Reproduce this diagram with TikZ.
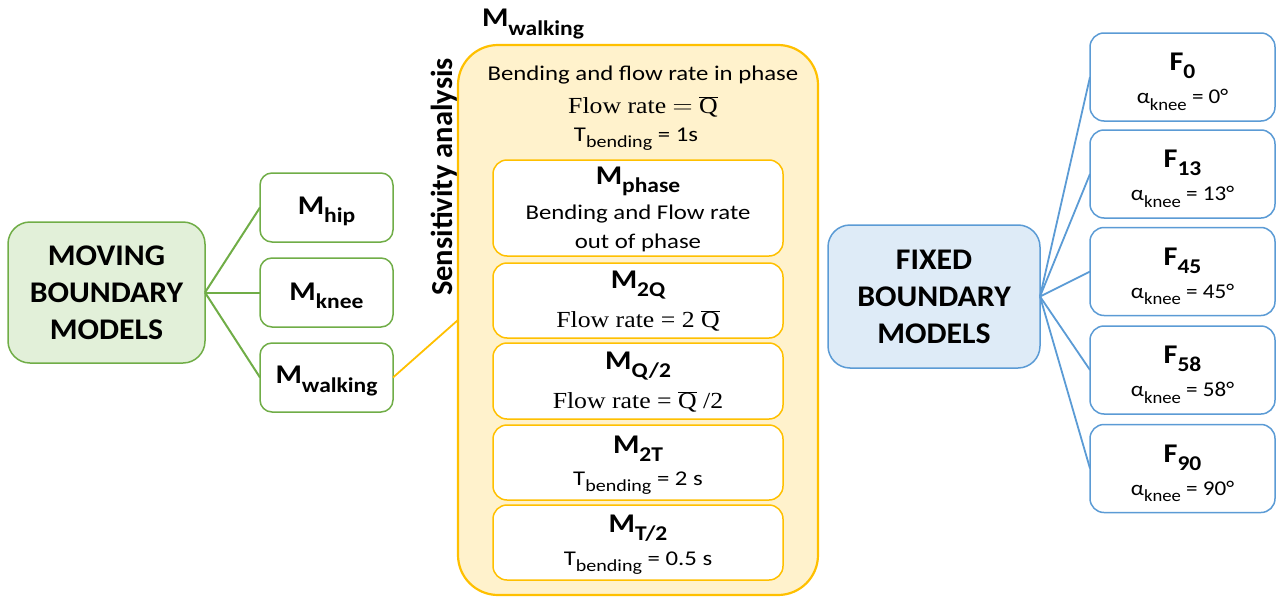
\documentclass[tikz,border=0pt]{standalone}
\usepackage{fontspec}
\setmainfont{Carlito}
\newfontfamily\serif{Liberation Serif}
\newcommand\qbar{$\overline{\hbox{\serif Q}}$}
\newcommand\lsub[2]{\raisebox{-0.3em}{\fontsize{#1}{#1}\selectfont #2}}
\definecolor{gborder}{HTML}{70AD47}
\definecolor{gfill}{HTML}{E2F0D9}
\definecolor{bborder}{HTML}{5B9BD5}
\definecolor{bfill}{HTML}{DEEBF7}
\definecolor{oborder}{HTML}{FFC000}
\definecolor{ofill}{HTML}{FFF2CC}
\tikzset{
  bigtxt/.style={font=\fontsize{30}{37}\selectfont\bfseries, align=center, xscale=1.06},
  mtxt/.style={font=\fontsize{27}{30}\selectfont\bfseries, xscale=1.12},
  ntxt/.style={font=\fontsize{21}{26}\selectfont, xscale=1.18},
  stxt/.style={font=\fontsize{23}{26}\selectfont\serif, xscale=1.12},
  atxt/.style={font=\fontsize{21}{24}\selectfont, xscale=1.1},
  gbig/.style={draw=gborder, fill=gfill, line width=1.5pt, rounded corners=22pt},
  gsmall/.style={draw=gborder, fill=white, line width=1.5pt, rounded corners=12pt},
  bbig/.style={draw=bborder, fill=bfill, line width=1.5pt, rounded corners=22pt},
  bsmall/.style={draw=bborder, fill=white, line width=1.5pt, rounded corners=14pt},
  obig/.style={draw=oborder, fill=ofill, line width=2.2pt, rounded corners=40pt},
  osmall/.style={draw=oborder, fill=white, line width=1.5pt, rounded corners=14pt},
  gline/.style={draw=gborder, line width=2pt},
  bline/.style={draw=bborder, line width=1.8pt},
  oline/.style={draw=oborder, line width=1.8pt},
}
\begin{document}
\begin{tikzpicture}[x=1pt,y=-1pt, inner sep=0pt, outer sep=0pt]
\useasboundingbox (0,0) rectangle (1277,597);

% left side
\node[gbig, minimum width=197pt, minimum height=141pt] (moving) at (106.5,292.5) {};
\node[bigtxt] (movingtxt) at (106.5,293) {MOVING\\BOUNDARY\\MODELS};
\node[gsmall, minimum width=133pt, minimum height=69pt] (hip) at (326.5,207.5) {};
\node[mtxt] (hiptxt) at (326.5,211) {M\lsub{21}{hip}};
\node[gsmall, minimum width=133pt, minimum height=69pt] (knee) at (326.5,292.5) {};
\node[mtxt] (kneetxt) at (326.5,296) {M\lsub{21}{knee}};
\node[gsmall, minimum width=133pt, minimum height=69pt] (walk) at (326.5,377.5) {};
\node[mtxt] (walktxt) at (326.5,381) {M\lsub{21}{walking}};

\draw[gline] (moving.east) -- (hip.west);
\draw[gline] (moving.east) -- (knee.west);
\draw[gline] (moving.east) -- (walk.west);

% big orange box
\node[obig, minimum width=360pt, minimum height=550pt] (big) at (638,320) {};
\node[mtxt, anchor=west, xscale=1.0] (bigtitle) at (482,24) {M\lsub{21}{walking}};
\node[font=\fontsize{30.5}{32}\selectfont\bfseries, rotate=90] (sens) at (444,177) {Sensitivity analysis};
\coordinate (bigin) at (458,320);
\draw[oline] (walk.east) -- (bigin);

\node[ntxt] (t1) at (643,75) {Bending and flow rate in phase};
\node[stxt] (t2) at (643,107) {Flow rate $=$ \qbar};
\node[ntxt] (t3) at (636,139) {T\lsub{17}{bending} = 1s};

\node[osmall, minimum width=290pt, minimum height=96pt] (phase) at (638,208) {};
\node[mtxt] (phasetxt) at (638,181) {M\lsub{21}{phase}};
\node[ntxt, align=center, font=\fontsize{21}{29}\selectfont] (phasesub) at (638,228) {Bending and Flow rate\\out of phase};

\node[osmall, minimum width=290pt, minimum height=75pt] (q2) at (638,300.5) {};
\node[mtxt] (q2txt) at (638,285) {M\lsub{21}{2Q}};
\node[stxt] (q2sub) at (638,321) {Flow rate = 2 \qbar};

\node[osmall, minimum width=290pt, minimum height=76pt] (qh) at (638,381) {};
\node[mtxt] (qhtxt) at (638,366) {M\lsub{21}{Q/2}};
\node[stxt] (qhsub) at (638,402) {Flow rate = \qbar\ /2};

\node[osmall, minimum width=290pt, minimum height=75pt] (t2b) at (638,462.5) {};
\node[mtxt] (t2btxt) at (638,449) {M\lsub{21}{2T}};
\node[ntxt] (t2bsub) at (638,483) {T\lsub{17}{bending} = 2 s};

\node[osmall, minimum width=290pt, minimum height=75pt] (th) at (638,542.5) {};
\node[mtxt] (thtxt) at (638,528) {M\lsub{21}{T/2}};
\node[ntxt] (thsub) at (638,563) {T\lsub{17}{bending} = 0.5 s};

% right side
\node[bbig, minimum width=212pt, minimum height=143pt] (fixed) at (934,296.5) {};
\node[bigtxt] (fixedtxt) at (934,297) {FIXED\\BOUNDARY\\MODELS};

\foreach \nm/\yy/\lab/\ang in {f0/77/0/0, f13/174/13/13, f45/271.5/45/45, f58/370/58/58, f90/468.5/90/90}{
  \node[bsmall, minimum width=185pt, minimum height=88pt] (\nm) at (1182.5,\yy) {};
  \node[mtxt] (\nm t) at (1182.5,\yy-11) {F\lsub{21}{\lab}};
  \node[atxt] (\nm s) at (1182.5,\yy+23) {α\lsub{17}{knee} = \ang°};
  \draw[bline] (fixed.east) -- (\nm.west);
}
\end{tikzpicture}
\end{document}
